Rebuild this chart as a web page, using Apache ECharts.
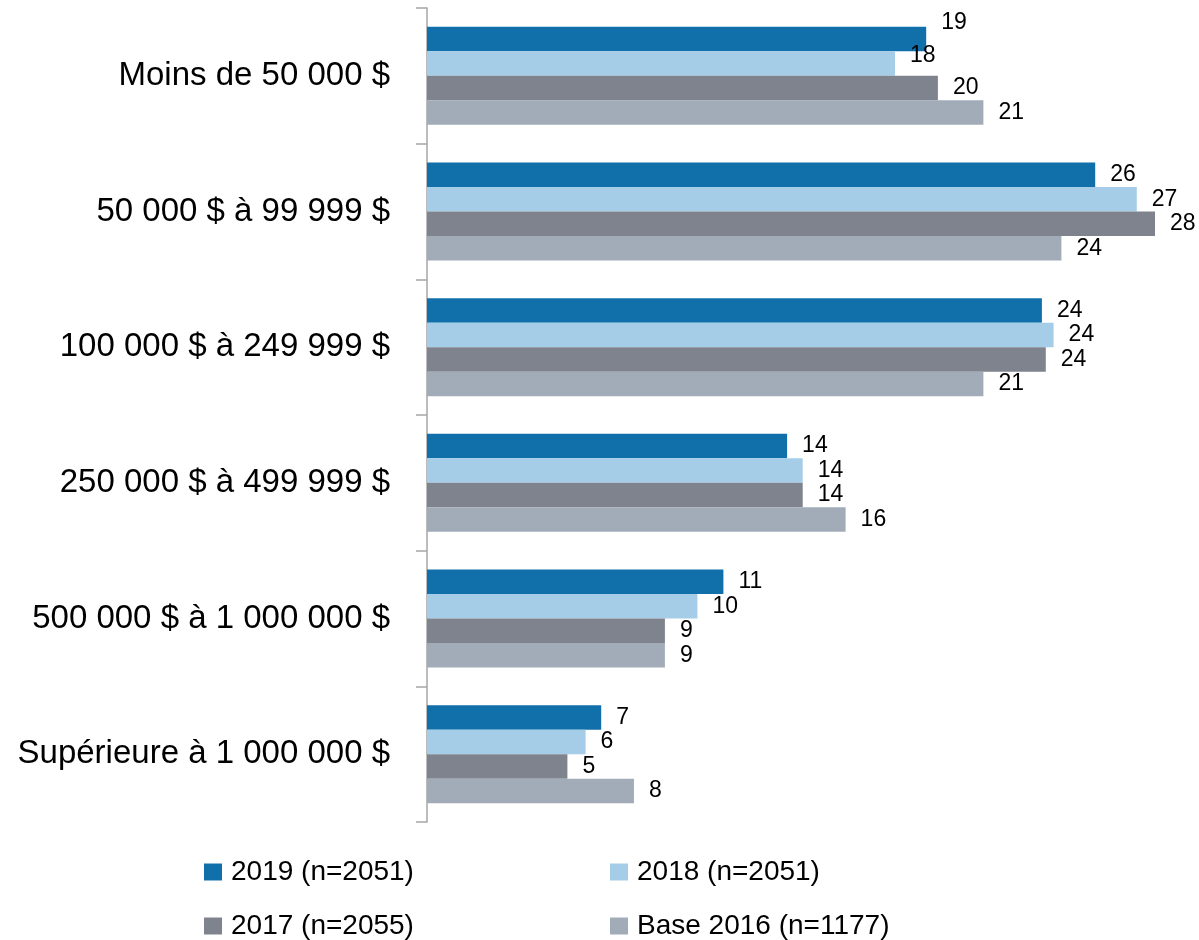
<!DOCTYPE html>
<html>
<head>
<meta charset="utf-8">
<script src="https://cdn.jsdelivr.net/npm/echarts@6/dist/echarts.min.js"></script>
<style>html,body{margin:0;padding:0;background:#fff}#c{width:1199px;height:940px}</style>
</head>
<body>
<div id="c"></div>
<script>
const categories = ["Moins de 50 000 $", "50 000 $ à 99 999 $", "100 000 $ à 249 999 $", "250 000 $ à 499 999 $", "500 000 $ à 1 000 000 $", "Supérieure à 1 000 000 $"];
const seriesNames = ["2019 (n=2051)", "2018 (n=2051)", "2017 (n=2055)", "Base 2016 (n=1177)"];
const values2019 = [19.2, 25.7, 23.65, 13.85, 11.4, 6.7];
const values2018 = [18.0, 27.3, 24.1, 14.45, 10.4, 6.1];
const values2017 = [19.65, 28.0, 23.8, 14.45, 9.15, 5.4];
const values2016 = [21.4, 24.4, 21.4, 16.1, 9.15, 7.96];
const colors = ["#1170AA", "#A5CDE8", "#7E838D", "#A2ACB8"];

const FONT = "Liberation Sans";
const allValues = [values2019, values2018, values2017, values2016];

const chart = echarts.init(document.getElementById('c'), null, {renderer: 'canvas'});

function makeSeries(i) {
  const data = allValues[i].map((v, j) => {
    const item = {value: v};
    if (j === 0 && i === 0) item.label = {offset: [0, -16]};
    if (j === 0 && i === 1) item.label = {offset: [0, -8]};
    return item;
  });
  return {
    name: seriesNames[i],
    type: 'bar',
    data: data,
    barWidth: 24.5,
    barGap: '0%',
    itemStyle: {color: colors[i]},
    label: {
      show: true,
      position: 'right',
      distance: 15,
      color: '#000',
      fontFamily: FONT,
      fontSize: 23,
      padding: [3, 0, 0, 0],
      formatter: p => Math.round(p.value)
    },
    animation: false
  };
}

const legendPos = [[204, 858], [610, 858], [204, 912], [610, 912]];
const legends = legendPos.map((p, i) => ({
  data: [seriesNames[i]],
  left: p[0], top: p[1], padding: 0,
  itemWidth: 18, itemHeight: 17, icon: 'rect',
  textStyle: {fontFamily: FONT, fontSize: 28, color: '#000', padding: [0, 0, 0, 4]}
}));

chart.setOption({
  animation: false,
  grid: {left: 427, right: 18, top: 8, bottom: 118, containLabel: false},
  xAxis: {
    type: 'value', min: 0, max: 29,
    show: false
  },
  yAxis: {
    type: 'category', data: categories, inverse: true,
    axisLine: {show: true, lineStyle: {color: '#A6A6A6', width: 1.5}},
    axisTick: {show: true, length: 11, lineStyle: {color: '#A6A6A6', width: 1.5}},
    axisLabel: {color: '#000', fontFamily: FONT, fontSize: 33, margin: 37, padding: [5, 0, 0, 0]}
  },
  legend: legends,
  series: [0, 1, 2, 3].map(makeSeries)
});
</script>
</body>
</html>
